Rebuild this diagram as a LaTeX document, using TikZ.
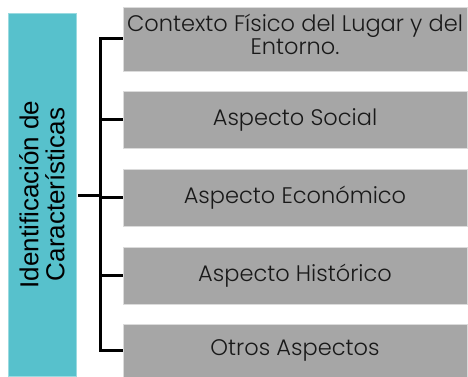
\documentclass[tikz,border=0pt]{standalone}
\usepackage{fontspec}
\setmainfont{Poppins Light}
\newfontfamily\idfont{Liberation Sans}
\definecolor{idteal}{RGB}{87,193,204}
\definecolor{aspgrey}{RGB}{166,166,166}
\tikzset{
  idbox/.style={fill=idteal,draw=idteal!60!white,minimum width=363pt,minimum height=68pt,
    inner sep=0pt,align=center,font=\idfont\fontsize{26}{26}\selectfont},
  aspectbox/.style={fill=aspgrey,draw=aspgrey!40!white,minimum width=344pt,minimum height=57pt,
    inner sep=0pt,align=center,text=black!90,font=\fontsize{22.5}{21}\selectfont},
  branch/.style={line width=3pt}
}
\begin{document}
\begin{tikzpicture}[x=1pt,y=-1pt]
\useasboundingbox (0,0) rectangle (468,377);
\node [idbox,rotate=90] (ident) at (42,194.5) {Identificación de\\Características};
\node [aspectbox,minimum height=64pt,text depth=10pt] (fisico) at (295,39) {Contexto Físico del Lugar y del\\Entorno.};
\node [aspectbox] (social) at (295,119.5) {Aspecto Social};
\node [aspectbox] (economico) at (295,197.5) {Aspecto Económico};
\node [aspectbox] (historico) at (295,275.5) {Aspecto Histórico};
\node [aspectbox,minimum height=53pt] (otros) at (295,350.5) {Otros Aspectos};
\coordinate (hub) at (100,195.5);
\draw [branch,shorten <=2pt] (ident.south |- hub) -- (hub);
\draw [branch] (fisico.west) -- (fisico.west -| hub) -- (otros.west -| hub) -- (otros.west);
\foreach \n in {social,economico,historico}
  \draw [branch] (\n.west) -- (\n.west -| hub);
\end{tikzpicture}
\end{document}
